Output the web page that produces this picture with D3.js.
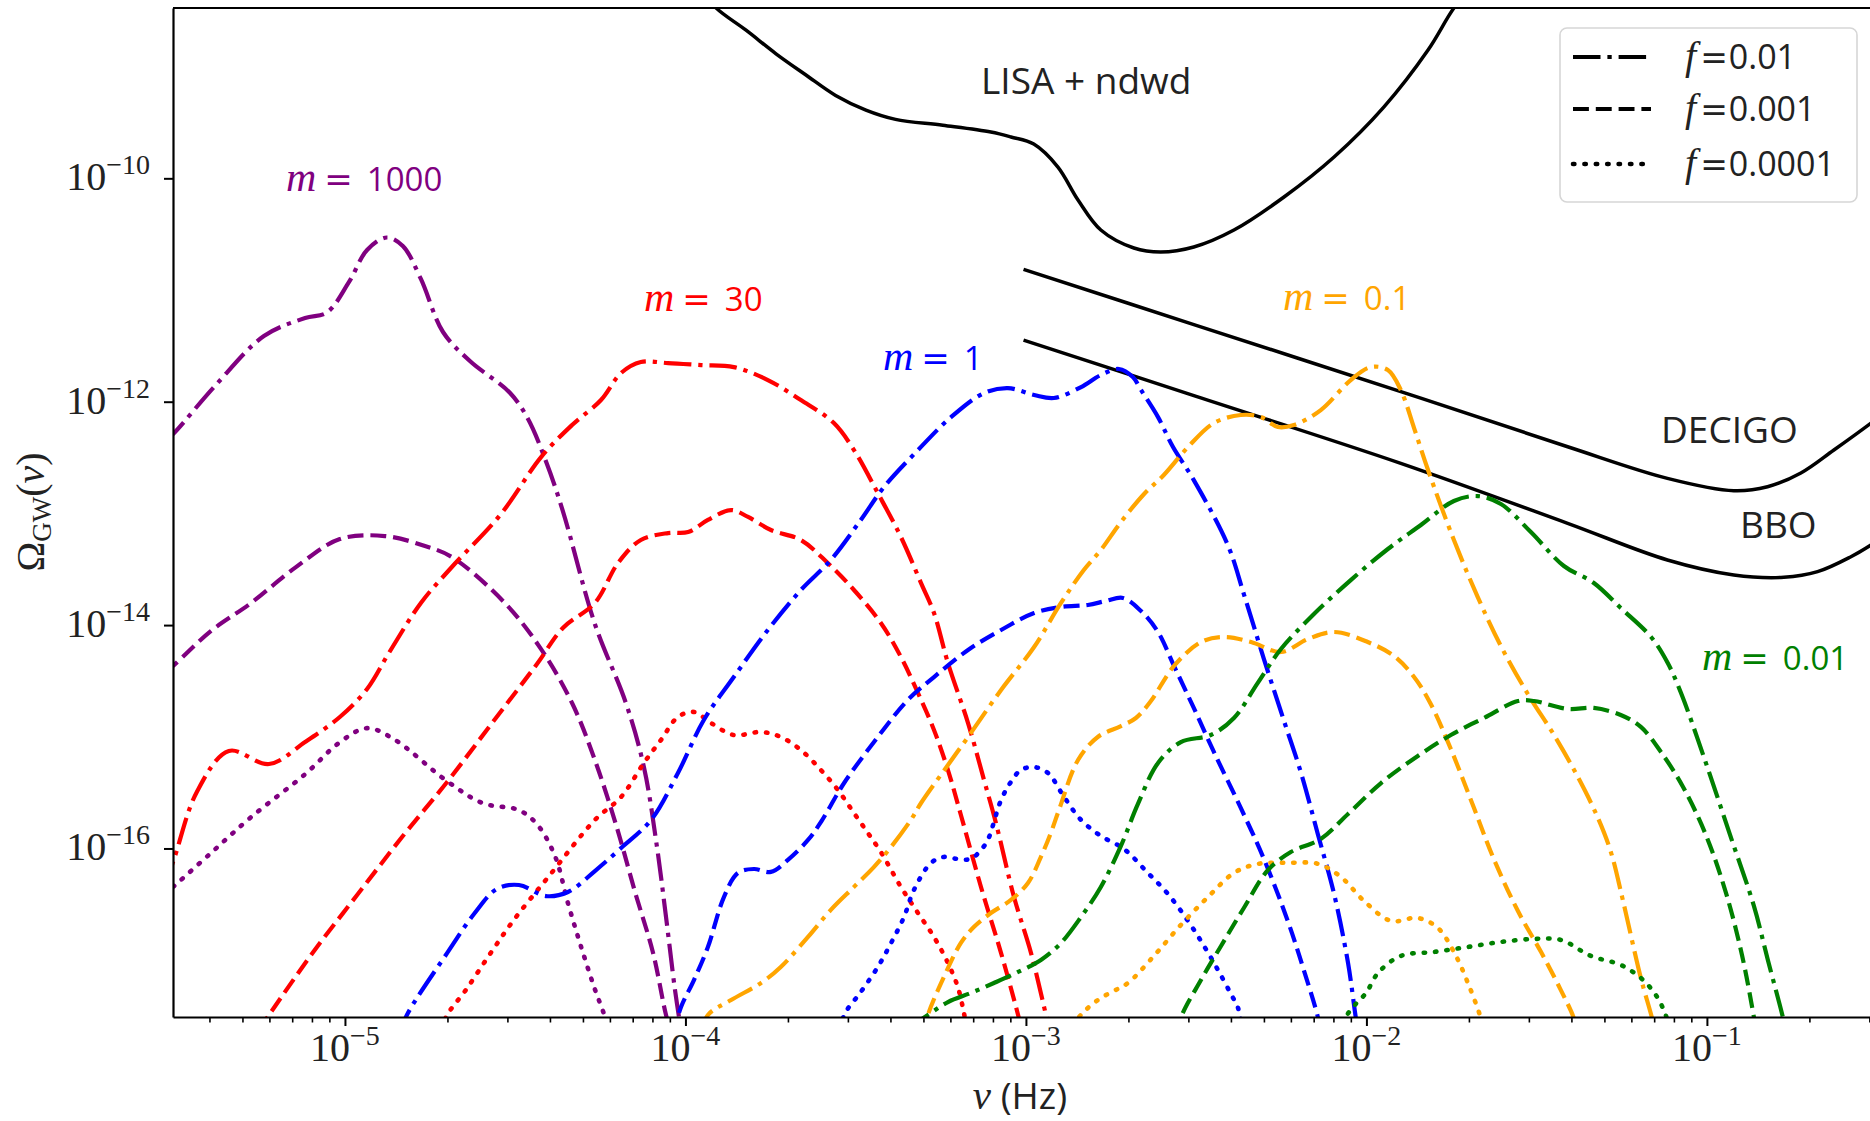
<!DOCTYPE html>
<html>
<head>
<meta charset="utf-8">
<script src="https://cdn.jsdelivr.net/npm/d3@7"></script>
<style>
  html, body { margin: 0; padding: 0; background: #fff; }
  svg { display: block; }
</style>
</head>
<body>
<div id="chart"></div>
<script>
// all points are [log10(nu / Hz), log10(Omega_GW)]

// detector sensitivity curves
const lisaNdwd = [[-3.954,-8.314],[-3.909,-8.478],[-3.822,-8.674],[-3.734,-8.885],[-3.646,-9.075],[-3.559,-9.258],[-3.470,-9.389],[-3.383,-9.472],[-3.244,-9.525],[-3.103,-9.586],[-3.044,-9.630],[-2.977,-9.693],[-2.906,-9.899],[-2.847,-10.194],[-2.780,-10.463],[-2.683,-10.624],[-2.604,-10.660],[-2.507,-10.615],[-2.389,-10.463],[-2.242,-10.167],[-2.095,-9.809],[-1.949,-9.362],[-1.819,-8.851],[-1.743,-8.475],[-1.693,-8.296]];
const decigo = [[-3.007,-10.815],[-2.5,-11.316],[-1.899,-11.910],[-1.409,-12.403],[-1.116,-12.686],[-0.921,-12.797],[-0.822,-12.761],[-0.724,-12.638],[-0.627,-12.432],[-0.518,-12.191],[-0.45,-12.03]];
const bbo = [[-3.007,-11.448],[-2.5,-11.952],[-1.899,-12.552],[-1.409,-13.089],[-1.116,-13.417],[-0.921,-13.551],[-0.774,-13.572],[-0.675,-13.522],[-0.577,-13.388],[-0.518,-13.283],[-0.45,-13.14]];

// m = 1000
const m1000f01 = [[-5.53,-12.36],[-5.499,-12.271],[-5.382,-11.860],[-5.238,-11.412],[-5.117,-11.251],[-5.053,-11.201],[-4.988,-10.928],[-4.935,-10.642],[-4.877,-10.530],[-4.830,-10.606],[-4.777,-10.901],[-4.712,-11.376],[-4.633,-11.636],[-4.515,-11.922],[-4.463,-12.151],[-4.410,-12.531],[-4.360,-12.979],[-4.266,-13.990],[-4.175,-14.697],[-4.122,-15.270],[-4.084,-15.978],[-4.057,-16.614],[-4.031,-17.259],[-4.013,-17.626]];
const m1000f001 = [[-5.527,-14.42],[-5.499,-14.349],[-5.394,-14.054],[-5.276,-13.803],[-5.144,-13.481],[-5.015,-13.230],[-4.883,-13.203],[-4.765,-13.292],[-4.686,-13.391],[-4.530,-13.803],[-4.424,-14.215],[-4.333,-14.698],[-4.266,-15.208],[-4.201,-15.817],[-4.148,-16.390],[-4.095,-16.936],[-4.057,-17.491],[-4.043,-17.63]];
const m1000f0001 = [[-5.53,-16.41],[-5.499,-16.329],[-5.394,-16.042],[-5.276,-15.720],[-5.117,-15.335],[-5.015,-15.049],[-4.935,-14.923],[-4.856,-15.022],[-4.700,-15.398],[-4.595,-15.595],[-4.489,-15.657],[-4.436,-15.783],[-4.383,-16.069],[-4.345,-16.490],[-4.307,-16.875],[-4.266,-17.260],[-4.239,-17.484],[-4.225,-17.63]];

// m = 30
const m30f01 = [[-5.53,-16.35],[-5.499,-16.067],[-5.435,-15.494],[-5.341,-15.127],[-5.223,-15.244],[-5.117,-15.047],[-5.015,-14.823],[-4.935,-14.572],[-4.871,-14.250],[-4.777,-13.802],[-4.686,-13.480],[-4.542,-13.006],[-4.424,-12.496],[-4.333,-12.209],[-4.248,-11.985],[-4.189,-11.743],[-4.131,-11.645],[-4.051,-11.654],[-3.954,-11.672],[-3.858,-11.690],[-3.758,-11.806],[-3.661,-11.985],[-3.564,-12.191],[-3.505,-12.433],[-3.435,-12.818],[-3.367,-13.212],[-3.308,-13.624],[-3.270,-13.892],[-3.229,-14.340],[-3.170,-14.877],[-3.123,-15.388],[-3.088,-15.773],[-3.035,-16.435],[-2.985,-16.937],[-2.941,-17.492],[-2.927,-17.671]];
const m30f001 = [[-5.253,-17.625],[-5.223,-17.491],[-5.093,-16.927],[-4.962,-16.408],[-4.830,-15.889],[-4.700,-15.405],[-4.568,-14.877],[-4.436,-14.348],[-4.360,-14.026],[-4.266,-13.802],[-4.198,-13.444],[-4.131,-13.238],[-4.051,-13.176],[-3.992,-13.167],[-3.934,-13.059],[-3.866,-12.970],[-3.816,-13.032],[-3.749,-13.149],[-3.661,-13.238],[-3.582,-13.444],[-3.505,-13.686],[-3.426,-13.981],[-3.367,-14.286],[-3.317,-14.608],[-3.270,-14.939],[-3.229,-15.298],[-3.191,-15.700],[-3.132,-16.345],[-3.073,-16.937],[-3.023,-17.491],[-3.009,-17.671]];
const m30f0001 = [[-4.718,-17.625],[-4.700,-17.491],[-4.645,-17.267],[-4.574,-16.945],[-4.504,-16.640],[-4.398,-16.237],[-4.266,-15.745],[-4.189,-15.539],[-4.122,-15.234],[-4.072,-15.029],[-4.022,-14.823],[-3.975,-14.778],[-3.925,-14.877],[-3.858,-14.984],[-3.778,-14.957],[-3.720,-15.002],[-3.661,-15.119],[-3.602,-15.298],[-3.552,-15.477],[-3.505,-15.683],[-3.464,-15.862],[-3.426,-16.032],[-3.367,-16.345],[-3.317,-16.578],[-3.270,-16.793],[-3.229,-17.026],[-3.200,-17.241],[-3.182,-17.474],[-3.173,-17.625]];

// m = 1
const m1f01 = [[-4.841,-17.671],[-4.818,-17.491],[-4.700,-16.937],[-4.621,-16.587],[-4.554,-16.363],[-4.489,-16.327],[-4.410,-16.426],[-4.345,-16.390],[-4.266,-16.202],[-4.189,-15.996],[-4.101,-15.745],[-4.022,-15.324],[-3.946,-14.850],[-3.858,-14.465],[-3.758,-14.044],[-3.661,-13.686],[-3.573,-13.417],[-3.485,-13.059],[-3.417,-12.764],[-3.317,-12.433],[-3.220,-12.138],[-3.123,-11.923],[-3.053,-11.878],[-2.976,-11.940],[-2.918,-11.967],[-2.838,-11.869],[-2.780,-11.761],[-2.727,-11.707],[-2.686,-11.779],[-2.662,-11.895],[-2.612,-12.138],[-2.568,-12.406],[-2.507,-12.702],[-2.407,-13.284],[-2.360,-13.722],[-2.301,-14.304],[-2.242,-14.859],[-2.192,-15.324],[-2.142,-15.879],[-2.095,-16.407],[-2.054,-17.024],[-2.031,-17.518],[-2.022,-17.671]];
const m1f001 = [[-4.037,-17.671],[-4.013,-17.420],[-3.975,-17.178],[-3.934,-16.882],[-3.887,-16.435],[-3.846,-16.219],[-3.799,-16.184],[-3.749,-16.210],[-3.699,-16.103],[-3.640,-15.924],[-3.602,-15.763],[-3.534,-15.414],[-3.435,-15.002],[-3.347,-14.671],[-3.270,-14.465],[-3.170,-14.223],[-3.073,-14.044],[-2.976,-13.892],[-2.897,-13.838],[-2.818,-13.820],[-2.765,-13.784],[-2.715,-13.757],[-2.662,-13.874],[-2.612,-14.062],[-2.565,-14.366],[-2.507,-14.742],[-2.448,-15.136],[-2.369,-15.637],[-2.301,-16.094],[-2.231,-16.649],[-2.184,-17.088],[-2.142,-17.518],[-2.134,-17.671]];
const m1f0001 = [[-3.543,-17.625],[-3.534,-17.491],[-3.485,-17.285],[-3.435,-17.061],[-3.396,-16.846],[-3.358,-16.613],[-3.329,-16.372],[-3.279,-16.130],[-3.241,-16.076],[-3.200,-16.094],[-3.162,-16.094],[-3.132,-16.013],[-3.112,-15.924],[-3.073,-15.566],[-3.044,-15.404],[-3.015,-15.298],[-2.976,-15.271],[-2.935,-15.325],[-2.888,-15.539],[-2.838,-15.745],[-2.780,-15.888],[-2.712,-16.005],[-2.642,-16.219],[-2.583,-16.407],[-2.524,-16.649],[-2.477,-16.873],[-2.436,-17.088],[-2.398,-17.303],[-2.377,-17.428],[-2.363,-17.625]];

// m = 0.1
const m01f01 = [[-3.954,-17.671],[-3.934,-17.491],[-3.866,-17.357],[-3.778,-17.204],[-3.720,-17.061],[-3.640,-16.792],[-3.573,-16.550],[-3.505,-16.344],[-3.446,-16.165],[-3.396,-15.986],[-3.338,-15.745],[-3.308,-15.593],[-3.229,-15.253],[-3.170,-15.002],[-3.073,-14.581],[-2.976,-14.196],[-2.897,-13.802],[-2.830,-13.507],[-2.780,-13.328],[-2.721,-13.077],[-2.653,-12.826],[-2.595,-12.656],[-2.524,-12.406],[-2.448,-12.191],[-2.369,-12.119],[-2.310,-12.137],[-2.260,-12.227],[-2.213,-12.209],[-2.134,-12.075],[-2.046,-11.806],[-1.987,-11.690],[-1.937,-11.716],[-1.899,-11.895],[-1.860,-12.236],[-1.819,-12.612],[-1.743,-13.239],[-1.673,-13.749],[-1.605,-14.188],[-1.526,-14.617],[-1.449,-14.984],[-1.379,-15.360],[-1.320,-15.727],[-1.282,-16.032],[-1.247,-16.461],[-1.194,-17.160],[-1.162,-17.509],[-1.150,-17.671]];
const m01f001 = [[-3.302,-17.671],[-3.288,-17.491],[-3.241,-17.151],[-3.191,-16.846],[-3.153,-16.703],[-3.103,-16.578],[-3.044,-16.461],[-2.994,-16.309],[-2.956,-16.076],[-2.927,-15.862],[-2.903,-15.656],[-2.847,-15.208],[-2.789,-15.002],[-2.721,-14.904],[-2.677,-14.832],[-2.633,-14.680],[-2.565,-14.366],[-2.486,-14.152],[-2.418,-14.107],[-2.339,-14.152],[-2.251,-14.241],[-2.172,-14.125],[-2.095,-14.062],[-1.996,-14.152],[-1.919,-14.277],[-1.860,-14.465],[-1.811,-14.707],[-1.752,-15.110],[-1.684,-15.638],[-1.626,-16.094],[-1.555,-16.560],[-1.487,-16.928],[-1.429,-17.268],[-1.391,-17.518],[-1.379,-17.671]];
const m01f0001 = [[-2.882,-17.671],[-2.844,-17.509],[-2.818,-17.428],[-2.780,-17.339],[-2.742,-17.276],[-2.700,-17.204],[-2.624,-16.962],[-2.545,-16.685],[-2.465,-16.434],[-2.389,-16.219],[-2.319,-16.138],[-2.231,-16.129],[-2.142,-16.138],[-2.075,-16.255],[-2.007,-16.470],[-1.928,-16.649],[-1.849,-16.622],[-1.790,-16.712],[-1.743,-16.927],[-1.702,-17.204],[-1.664,-17.518],[-1.652,-17.671]];

// m = 0.01
const m001f01 = [[-3.352,-17.625],[-3.288,-17.491],[-3.229,-17.375],[-3.162,-17.294],[-3.094,-17.205],[-3.023,-17.106],[-2.956,-16.998],[-2.897,-16.846],[-2.838,-16.613],[-2.780,-16.345],[-2.721,-15.977],[-2.671,-15.601],[-2.612,-15.234],[-2.545,-15.047],[-2.457,-14.984],[-2.389,-14.832],[-2.319,-14.518],[-2.251,-14.214],[-2.154,-13.901],[-2.046,-13.597],[-1.937,-13.319],[-1.840,-13.104],[-1.743,-12.889],[-1.673,-12.845],[-1.605,-12.916],[-1.517,-13.167],[-1.420,-13.471],[-1.332,-13.623],[-1.253,-13.847],[-1.164,-14.107],[-1.115,-14.340],[-1.076,-14.608],[-1.003,-15.234],[-0.932,-15.879],[-0.862,-16.515],[-0.821,-16.998],[-0.777,-17.509],[-0.765,-17.671]];
const m001f001 = [[-2.553,-17.671],[-2.545,-17.518],[-2.486,-17.178],[-2.427,-16.873],[-2.360,-16.533],[-2.289,-16.193],[-2.222,-16.032],[-2.134,-15.915],[-2.054,-15.691],[-1.957,-15.414],[-1.849,-15.172],[-1.752,-14.984],[-1.655,-14.832],[-1.555,-14.680],[-1.508,-14.680],[-1.408,-14.751],[-1.332,-14.742],[-1.253,-14.805],[-1.194,-14.912],[-1.135,-15.136],[-1.070,-15.450],[-1.003,-15.879],[-0.944,-16.398],[-0.897,-16.954],[-0.862,-17.509],[-0.853,-17.671]];
const m001f0001 = [[-2.075,-17.671],[-2.060,-17.509],[-2.034,-17.401],[-2.001,-17.294],[-1.966,-17.115],[-1.899,-16.962],[-1.802,-16.927],[-1.702,-16.882],[-1.605,-16.837],[-1.508,-16.810],[-1.429,-16.819],[-1.341,-16.962],[-1.253,-17.043],[-1.194,-17.160],[-1.150,-17.312],[-1.121,-17.491],[-1.106,-17.671]];

const massLabels = ["1000", "30", "1", "0.1", "0.01"];
const massColors = ["purple", "red", "blue", "orange", "green"];
const fractionLabels = ["0.01", "0.001", "0.0001"];
const xTickExps = [-5, -4, -3, -2, -1];
const yTickExps = [-16, -14, -12, -10];
const detectorLabels = ["LISA + ndwd", "DECIGO", "BBO"];

const spectra = [
  [m1000f01, m1000f001, m1000f0001],
  [m30f01, m30f001, m30f0001],
  [m1f01, m1f001, m1f0001],
  [m01f01, m01f001, m01f0001],
  [m001f01, m001f001, m001f0001]
];

const width = 1870, height = 1121;
const plotLeft = 173, plotTop = 8, plotBottom = 1017, plotRight = 1870;

const serif = "'Liberation Serif', 'DejaVu Serif', serif";
const sans = "'Open Sans', Lato, sans-serif";

// matplotlib style dash patterns, scaled to the line width
const dashes = ["27.5,6.9,4.3,6.9", "15.9,6.9", "1.4,10"];
const caps = ["butt", "butt", "round"];
const widths = [4.2, 4.2, 4.6];

const svg = d3.select("#chart").append("svg")
  .attr("width", width)
  .attr("height", height);

const x = d3.scaleLog()
  .domain([Math.pow(10, -5.505), Math.pow(10, -0.521)])
  .range([plotLeft, plotRight]);
const y = d3.scaleLog()
  .domain([Math.pow(10, -17.509), Math.pow(10, -8.475)])
  .range([plotBottom, plotTop]);

svg.append("clipPath").attr("id", "plot")
  .append("rect")
  .attr("x", plotLeft).attr("y", plotTop)
  .attr("width", plotRight - plotLeft).attr("height", plotBottom - plotTop);

const line = d3.line()
  .x(d => x(Math.pow(10, d[0])))
  .y(d => y(Math.pow(10, d[1])))
  .curve(d3.curveCatmullRom.alpha(0.5));

const plot = svg.append("g").attr("clip-path", "url(#plot)");

// detector curves
[lisaNdwd, decigo, bbo].forEach(pts => {
  plot.append("path")
    .attr("d", line(pts))
    .attr("fill", "none")
    .attr("stroke", "#000")
    .attr("stroke-width", 3.5);
});

// spectra
spectra.forEach((group, i) => {
  group.forEach((pts, j) => {
    plot.append("path")
      .attr("d", line(pts))
      .attr("fill", "none")
      .attr("stroke", massColors[i])
      .attr("stroke-width", widths[j])
      .attr("stroke-linecap", caps[j])
      .attr("stroke-dasharray", dashes[j]);
  });
});

// axes
const minorX = [];
for (let e = -6; e <= -1; e++) {
  for (let k = 2; k <= 9; k++) {
    const v = k * Math.pow(10, e);
    if (v > x.domain()[0] && v < x.domain()[1]) minorX.push(v);
  }
}

const gx = svg.append("g")
  .attr("transform", `translate(0,${plotBottom})`)
  .call(d3.axisBottom(x)
    .tickValues(xTickExps.map(e => Math.pow(10, e)))
    .tickSize(9).tickSizeOuter(0).tickFormat(""));
svg.append("g")
  .attr("transform", `translate(0,${plotBottom})`)
  .call(d3.axisBottom(x).tickValues(minorX).tickSize(5.5).tickFormat(""))
  .call(g => g.select(".domain").remove())
  .selectAll("line").attr("stroke-width", 1.6);

const gy = svg.append("g")
  .attr("transform", `translate(${plotLeft},0)`)
  .call(d3.axisLeft(y)
    .tickValues(yTickExps.map(e => Math.pow(10, e)))
    .tickSize(9).tickSizeOuter(0).tickFormat(""));

[gx, gy].forEach(g => {
  g.select(".domain").attr("stroke-width", 2.2);
  g.selectAll(".tick line").attr("stroke-width", 2);
});

svg.append("line")
  .attr("x1", plotLeft).attr("x2", plotRight)
  .attr("y1", plotTop).attr("y2", plotTop)
  .attr("stroke", "#000").attr("stroke-width", 2.2);

// tick labels 10^e
xTickExps.forEach(e => {
  const t = svg.append("text")
    .attr("x", x(Math.pow(10, e)))
    .attr("y", 1061)
    .attr("text-anchor", "middle")
    .attr("font-family", serif)
    .attr("fill", "#222");
  t.append("tspan").attr("font-size", 40).text("10");
  t.append("tspan").attr("font-size", 28).attr("dy", -16).text("\u2212" + Math.abs(e));
});

yTickExps.forEach(e => {
  const t = svg.append("text")
    .attr("x", 150)
    .attr("y", y(Math.pow(10, e)) + 12)
    .attr("text-anchor", "end")
    .attr("font-family", serif)
    .attr("fill", "#222");
  t.append("tspan").attr("font-size", 40).text("10");
  t.append("tspan").attr("font-size", 28).attr("dy", -16).text("\u2212" + Math.abs(e));
});

// axis titles
const xt = svg.append("text")
  .attr("x", 1020).attr("y", 1109)
  .attr("text-anchor", "middle")
  .attr("fill", "#222");
xt.append("tspan").attr("font-family", serif).attr("font-style", "italic").attr("font-size", 41).text("\u03bd");
xt.append("tspan").attr("font-family", sans).attr("font-size", 37).text(" (Hz)");

const yt = svg.append("text")
  .attr("transform", "translate(44,512) rotate(-90)")
  .attr("text-anchor", "middle")
  .attr("font-family", serif)
  .attr("fill", "#222");
yt.append("tspan").attr("font-size", 40).text("\u03a9");
yt.append("tspan").attr("font-size", 27).attr("dy", 7).text("GW");
yt.append("tspan").attr("font-size", 40).attr("dy", -7).text("(");
yt.append("tspan").attr("font-size", 40).attr("font-style", "italic").text("\u03bd");
yt.append("tspan").attr("font-size", 40).text(")");

// detector names
const detectorPos = [[981, 94], [1661, 443], [1740, 538]];
detectorLabels.forEach((s, i) => {
  svg.append("text")
    .attr("x", detectorPos[i][0]).attr("y", detectorPos[i][1])
    .attr("font-family", sans).attr("font-size", 37)
    .attr("fill", "#222")
    .text(s);
});

// mass labels
const massPos = [[286, 191], [644, 311], [883, 370], [1283, 310], [1702, 670]];
massLabels.forEach((s, i) => {
  const t = svg.append("text")
    .attr("x", massPos[i][0]).attr("y", massPos[i][1])
    .attr("fill", massColors[i]);
  t.append("tspan").attr("font-family", serif).attr("font-style", "italic").attr("font-size", 42).text("m");
  t.append("tspan").attr("font-family", "'DejaVu Serif', serif").attr("font-size", 34).attr("dx", 8).text("=");
  t.append("tspan").attr("font-family", sans).attr("font-size", 33).attr("dx", 14).text(s);
});

// legend
const legend = svg.append("g");
legend.append("rect")
  .attr("x", 1560).attr("y", 28)
  .attr("width", 297).attr("height", 174)
  .attr("rx", 7)
  .attr("fill", "#fff").attr("fill-opacity", 0.8)
  .attr("stroke", "#d6d6d6").attr("stroke-width", 1.6);
const legendRows = [57, 109, 164];
fractionLabels.forEach((s, j) => {
  legend.append("line")
    .attr("x1", 1573).attr("x2", 1651)
    .attr("y1", legendRows[j]).attr("y2", legendRows[j])
    .attr("stroke", "#000").attr("stroke-width", widths[j])
    .attr("stroke-linecap", caps[j])
    .attr("stroke-dasharray", dashes[j]);
  const t = legend.append("text")
    .attr("x", 1685).attr("y", legendRows[j] + 12)
    .attr("fill", "#222");
  t.append("tspan").attr("font-family", serif).attr("font-style", "italic").attr("font-size", 40).text("f");
  t.append("tspan").attr("font-family", "'DejaVu Serif', serif").attr("font-size", 33).attr("dx", 4).text("=");
  t.append("tspan").attr("font-family", sans).attr("font-size", 34).attr("dx", 1).text(s);
});
</script>
</body>
</html>
